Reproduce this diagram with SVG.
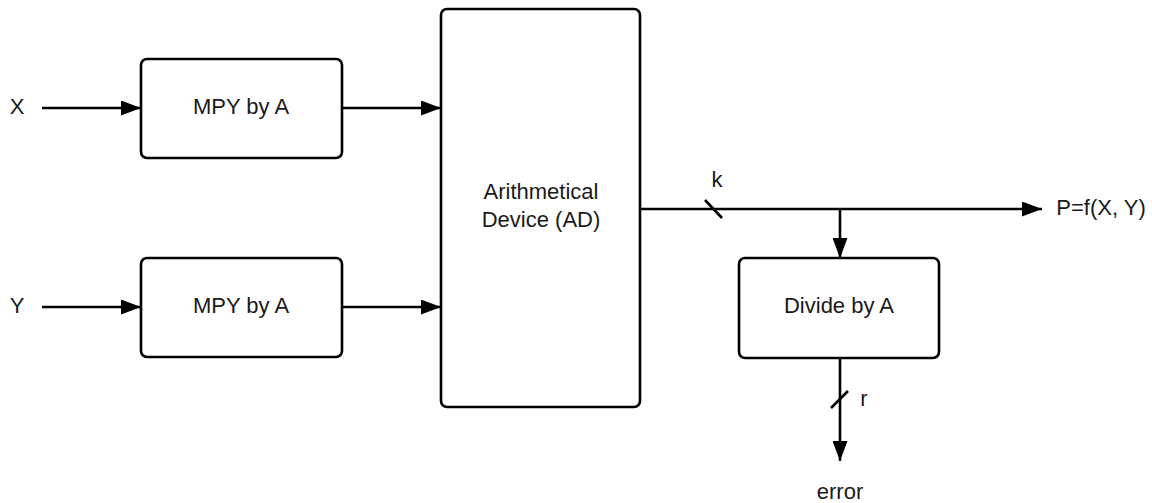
<svg xmlns="http://www.w3.org/2000/svg" width="1152" height="503" viewBox="0 0 1152 503">
<style>
.box{fill:#fff;stroke:#000;stroke-width:2.6}
.ln{fill:none;stroke:#000;stroke-width:2.6}
text{font-family:"Liberation Sans",Arial,sans-serif;font-size:22px;fill:#1a1a1a;text-anchor:middle;dominant-baseline:central}
</style>
<defs>
<marker id="ah" markerWidth="20" markerHeight="15" refX="20" refY="7.5" orient="auto" markerUnits="userSpaceOnUse">
<path d="M0,0 L20,7.5 L0,15 Z" fill="#000"/>
</marker>
</defs>
<rect width="1152" height="503" fill="#fff"/>
<g id="connectors">
<line class="ln" x1="42" y1="108" x2="141" y2="108" marker-end="url(#ah)"/>
<line class="ln" x1="42" y1="307" x2="141" y2="307" marker-end="url(#ah)"/>
<line class="ln" x1="342" y1="108" x2="441" y2="108" marker-end="url(#ah)"/>
<line class="ln" x1="342" y1="307" x2="441" y2="307" marker-end="url(#ah)"/>
<line class="ln" x1="640" y1="209" x2="1042" y2="209" marker-end="url(#ah)"/>
<line class="ln" x1="840" y1="209" x2="840" y2="258" marker-end="url(#ah)"/>
<line class="ln" x1="840" y1="358" x2="840" y2="461" marker-end="url(#ah)"/>
<line class="ln" x1="705" y1="200" x2="722" y2="218"/>
<line class="ln" x1="831" y1="408" x2="848" y2="391"/>
<text x="717" y="179">k</text>
<text x="864" y="398">r</text>
<text x="17" y="106">X</text>
<text x="17" y="305">Y</text>
<text x="1101" y="207">P=f(X, Y)</text>
<text x="840" y="491">error</text>
</g>
<g id="mpy1">
<rect class="box" x="141" y="59" width="201" height="99" rx="6"/>
<text x="241" y="106">MPY by A</text>
</g>
<g id="mpy2">
<rect class="box" x="141" y="258" width="201" height="99" rx="6"/>
<text x="241" y="305">MPY by A</text>
</g>
<g id="ad">
<rect class="box" x="441" y="9" width="199" height="398" rx="6"/>
<text x="541" y="191">Arithmetical</text>
<text x="541" y="219">Device (AD)</text>
</g>
<g id="divide">
<rect class="box" x="739" y="258" width="200" height="100" rx="6"/>
<text x="839" y="305">Divide by A</text>
</g>
</svg>
